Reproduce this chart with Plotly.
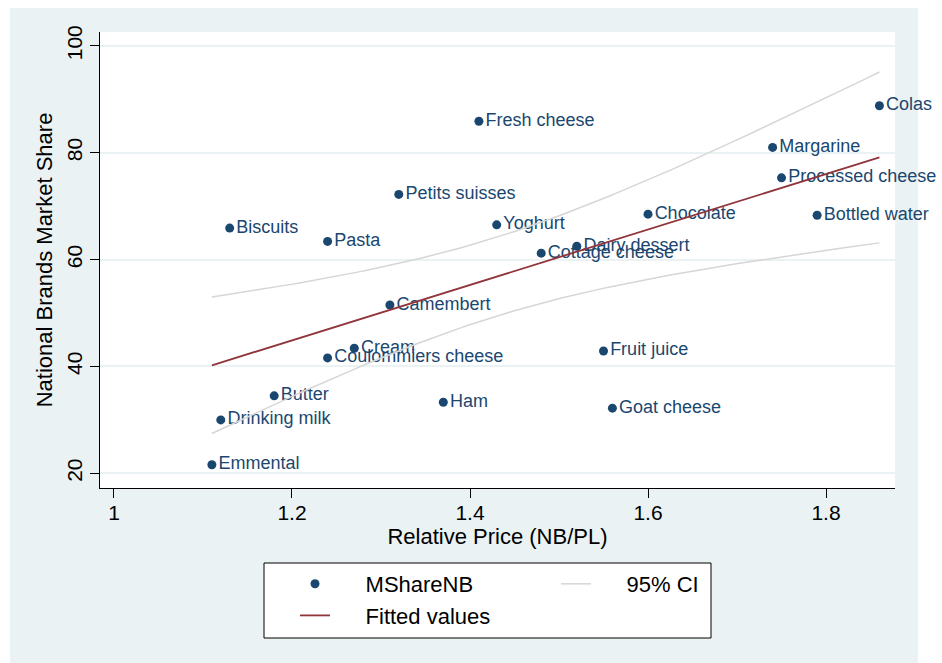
import numpy as np
import plotly.graph_objects as go

# Product categories, relative price of national brands vs private labels,
# and national brands' market share (%)
products = ["Colas", "Fresh cheese", "Margarine", "Processed cheese", "Petits suisses",
            "Chocolate", "Bottled water", "Biscuits", "Yoghurt", "Pasta",
            "Dairy dessert", "Cottage cheese", "Camembert", "Cream", "Coulommiers cheese",
            "Fruit juice", "Butter", "Ham", "Goat cheese", "Drinking milk", "Emmental"]
rel_price = [1.86, 1.41, 1.74, 1.75, 1.32,
             1.60, 1.79, 1.13, 1.43, 1.24,
             1.52, 1.48, 1.31, 1.27, 1.24,
             1.55, 1.18, 1.37, 1.56, 1.12, 1.11]
mshare_nb = [88.8, 85.9, 81.0, 75.3, 72.2,
             68.5, 68.3, 65.9, 66.5, 63.4,
             62.5, 61.2, 51.5, 43.4, 41.6,
             42.9, 34.5, 33.3, 32.2, 30.0, 21.6]

x_ticks = [1, 1.2, 1.4, 1.6, 1.8]
x_tick_labels = ["1", "1.2", "1.4", "1.6", "1.8"]
y_ticks = [20, 40, 60, 80, 100]

NAVY = "#1a476f"
MAROON = "#90353b"
CI_GREY = "#d6d6d6"
BG = "#eaf2f3"
FONT = "Liberation Sans, Arial, sans-serif"

# Linear fit with 95% confidence interval of the mean prediction
x = np.asarray(rel_price)
y = np.asarray(mshare_nb)
n = len(x)
slope, intercept = np.polyfit(x, y, 1)
resid = y - (intercept + slope * x)
s2 = resid @ resid / (n - 2)
sxx = ((x - x.mean()) ** 2).sum()
t_crit = 2.093  # t(0.975, df=19)
grid = np.linspace(x.min(), x.max(), 100)
fit = intercept + slope * grid
se = np.sqrt(s2 * (1 / n + (grid - x.mean()) ** 2 / sxx))
lo, hi = fit - t_crit * se, fit + t_crit * se

PAD = "\u00a0" * 5  # gap between legend key and its label

fig = go.Figure()
fig.add_trace(go.Scatter(
    x=rel_price, y=mshare_nb, mode="markers+text", text=products,
    textposition="middle right", name=PAD + "MShareNB",
    marker=dict(color=NAVY, size=9),
    textfont=dict(family=FONT, size=18, color=NAVY),
    legend="legend", cliponaxis=False,
))
fig.add_trace(go.Scatter(
    x=grid, y=hi, mode="lines", name=PAD + "95% CI",
    line=dict(color=CI_GREY, width=1.5), legend="legend2",
))
fig.add_trace(go.Scatter(
    x=grid, y=lo, mode="lines", showlegend=False,
    line=dict(color=CI_GREY, width=1.5),
))
fig.add_trace(go.Scatter(
    x=grid, y=fit, mode="lines", name=PAD + "Fitted values",
    line=dict(color=MAROON, width=1.8), legend="legend",
))

L, R, T, B = 100, 47, 32, 175
W, H = 942, 663
pw, ph = W - L - R, H - T - B

def px_x(p):
    return (p - L) / pw

def px_y(p):
    return (H - B - p) / ph

fig.update_layout(
    width=W, height=H,
    margin=dict(l=L, r=R, t=T, b=B),
    paper_bgcolor="white", plot_bgcolor="white",
    font=dict(family=FONT, color="black"),
    shapes=[
        dict(type="rect", xref="paper", yref="paper", layer="below",
             x0=px_x(10), x1=px_x(918), y0=px_y(663), y1=px_y(8),
             fillcolor=BG, line=dict(width=0)),
        dict(type="rect", xref="paper", yref="paper", layer="below",
             x0=0, x1=1, y0=0, y1=1, fillcolor="white", line=dict(width=0)),
        dict(type="rect", xref="paper", yref="paper", layer="below",
             x0=px_x(264), x1=px_x(711), y0=px_y(638), y1=px_y(563),
             fillcolor="white", line=dict(width=0)),
        dict(type="rect", xref="paper", yref="paper", layer="above",
             x0=px_x(264), x1=px_x(711), y0=px_y(638), y1=px_y(563),
             fillcolor="rgba(0,0,0,0)", line=dict(color="black", width=1)),
    ],
    xaxis=dict(
        range=[0.9843, 1.8775], tickvals=x_ticks, ticktext=x_tick_labels,
        showgrid=False, zeroline=False, showline=True, linecolor="black", linewidth=1,
        ticks="outside", ticklen=9, tickcolor="black", ticklabelstandoff=-3,
        tickfont=dict(size=21),
        title=dict(text="Relative Price (NB/PL)", font=dict(size=22), standoff=2),
    ),
    yaxis=dict(
        range=[17.25, 102.6], tickvals=y_ticks,
        showgrid=True, gridcolor=BG, gridwidth=1.5, zeroline=False,
        showline=True, linecolor="black", linewidth=1,
        ticks="outside", ticklen=9, tickcolor="black", tickangle=-90,
        tickfont=dict(size=21),
        title=dict(text="National Brands Market Share", font=dict(size=22), standoff=3),
    ),
    legend=dict(
        x=px_x(295), y=px_y(563), xanchor="left", yanchor="top",
        bgcolor="rgba(0,0,0,0)", borderwidth=0, font=dict(size=22),
        orientation="v", tracegroupgap=0,
    ),
    legend2=dict(
        x=px_x(556), y=px_y(563), xanchor="left", yanchor="top",
        bgcolor="rgba(0,0,0,0)", borderwidth=0, font=dict(size=22),
    ),
)

fig.write_html("out.html")
